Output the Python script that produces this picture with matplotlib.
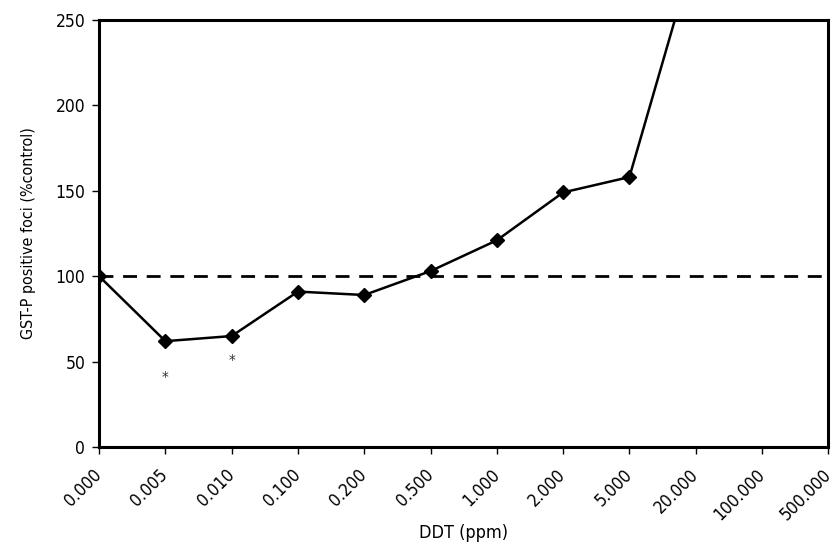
import matplotlib.pyplot as plt
import numpy as np

# DDT dose groups (categorical axis)
doses = ['0.000', '0.005', '0.010', '0.100', '0.200', '0.500', '1.000',
         '2.000', '5.000', '20.000', '100.000', '500.000']
# GST-P positive foci, % of control (last point runs off the top)
foci = [100, 62, 65, 91, 89, 103, 121, 149, 158, 292]
# significance markers
star_idx = [1, 2]
star_y = [40, 50]

plt.rcParams['font.family'] = ['DejaVu Sans']
plt.rcParams['font.stretch'] = 'condensed'

fig = plt.figure(figsize=(8.4, 5.5), dpi=100)
ax = fig.add_axes([0.118, 0.187, 0.868, 0.777])

x = np.arange(len(foci))
ax.plot(x, foci, color='black', lw=1.8, marker='D', markersize=7.5,
        clip_on=True, zorder=3)
ax.axhline(100, color='black', lw=2, dashes=(5, 3.5), zorder=2)

for i, yv in zip(star_idx, star_y):
    ax.text(i, yv, '*', ha='center', va='center', fontsize=11, color='#333333')

ax.set_xlim(0, len(doses) - 1)
ax.set_ylim(0, 250)
ax.set_xticks(np.arange(len(doses)))
ax.set_xticklabels(doses, rotation=45, ha='right', va='center',
                   rotation_mode='anchor', fontsize=12.5)
ax.set_yticks([0, 50, 100, 150, 200, 250])
ax.tick_params(axis='y', labelsize=12.5, length=5, width=1, pad=5)
ax.tick_params(axis='x', length=5, width=1, pad=13)

for s in ax.spines.values():
    s.set_linewidth(2.2)

ax.set_xlabel('DDT (ppm)', fontsize=13, labelpad=0)
ax.set_ylabel('GST-P positive foci (%control)', fontsize=11.5, labelpad=14)

fig.savefig('out.png', dpi=100)
